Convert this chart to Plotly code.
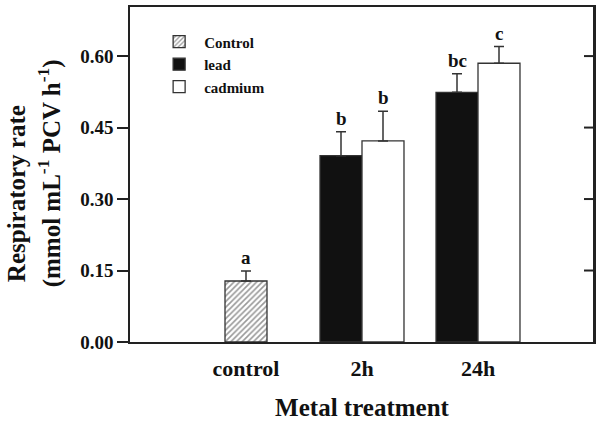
import plotly.graph_objects as go

categories = ["control", "2h", "24h"]
control_vals = [0.128]
control_err = [0.021]
lead_vals = [0.391, 0.524]
lead_err = [0.050, 0.039]
cad_vals = [0.422, 0.585]
cad_err = [0.062, 0.035]
labels_control = ["a"]
labels_lead = ["b", "bc"]
labels_cad = ["b", "c"]
y_ticks = [0.00, 0.15, 0.30, 0.45, 0.60]
y_title_lines = ["<b>Respiratory rate</b>", "<b>(mmol mL<sup>-1</sup> PCV h<sup>-1</sup>)</b>"]
x_title = "<b>Metal treatment</b>"

W, H = 600, 426
ML, MR, MT, MB = 130, 6, 7, 84
PLOT_W = W - ML - MR
BW = 0.362
FONT = "Liberation Serif"
EDGE = "#333333"
INK = "#111111"
AXIS = "#222222"
YMAX = 0.703

fig = go.Figure()
fig.add_trace(go.Bar(
    name="<b>Control</b>", x=categories[:1], y=control_vals, width=BW, offset=-BW / 2,
    marker=dict(color="white", line=dict(color=EDGE, width=1.3),
                pattern=dict(shape="/", fgcolor="#333333", bgcolor="white", size=4, solidity=0.4)),
    error_y=dict(type="data", symmetric=False, array=control_err, arrayminus=[0] * len(control_err),
                 color=EDGE, thickness=1.5, width=5),
))
fig.add_trace(go.Bar(
    name="<b>lead</b>", x=categories[1:], y=lead_vals, width=BW, offset=-BW,
    marker=dict(color=INK, line=dict(color=EDGE, width=1.3)),
    error_y=dict(type="data", symmetric=False, array=lead_err, arrayminus=[0] * len(lead_err),
                 color=EDGE, thickness=1.5, width=5),
))
fig.add_trace(go.Bar(
    name="<b>cadmium</b>", x=categories[1:], y=cad_vals, width=BW, offset=0,
    marker=dict(color="white", line=dict(color=EDGE, width=1.3)),
    error_y=dict(type="data", symmetric=False, array=cad_err, arrayminus=[0] * len(cad_err),
                 color=EDGE, thickness=1.5, width=5),
))

cat_idx = {c: i for i, c in enumerate(categories)}
def add_letters(cats, vals, errs, labs, shift):
    for c, v, e, t in zip(cats, vals, errs, labs):
        fig.add_annotation(x=cat_idx[c] + shift, y=v + e, xref="x", yref="y", text=f"<b>{t}</b>",
                           showarrow=False, yanchor="bottom", yshift=1,
                           font=dict(family=FONT, size=19, color=INK))

add_letters(categories[:1], control_vals, control_err, labels_control, 0)
add_letters(categories[1:], lead_vals, lead_err, labels_lead, -BW / 2)
add_letters(categories[1:], cad_vals, cad_err, labels_cad, BW / 2)

# y-axis title: two rotated lines, both starting near the bottom
for line, xp, yp in zip(y_title_lines, [-0.243, -0.174], [0.172, 0.158]):
    fig.add_annotation(x=xp, y=yp, xref="paper", yref="paper", text=line,
                       showarrow=False, textangle=-90,
                       xanchor="center", yanchor="bottom",
                       font=dict(family=FONT, size=25, color=INK))

# right frame line and inward ticks at the same tick values as the left axis
fig.add_shape(type="line", xref="paper", yref="paper", x0=1, x1=1, y0=0, y1=1,
              line=dict(color=AXIS, width=2))
for v in y_ticks[1:]:
    fig.add_shape(type="line", xref="paper", yref="y", x0=1, x1=1 - 10 / PLOT_W, y0=v, y1=v,
                  line=dict(color=AXIS, width=2))

fig.update_layout(
    width=W, height=H,
    margin=dict(l=ML, r=MR, t=MT, b=MB, autoexpand=False),
    paper_bgcolor="white", plot_bgcolor="white",
    barmode="overlay",
    font=dict(family=FONT, color=INK),
    showlegend=True,
    legend=dict(x=0.052, y=0.945, xanchor="left", yanchor="top",
                bgcolor="rgba(0,0,0,0)", font=dict(family=FONT, size=15, color=INK),
                tracegroupgap=0, itemwidth=40),
    xaxis=dict(type="category", categoryorder="array", categoryarray=categories,
               tickvals=categories, ticktext=[f"<b>{c}</b>" for c in categories],
               range=[-1, 3], showline=True, linecolor=AXIS, linewidth=1.5, mirror=True,
               ticks="outside", ticklen=6, tickcolor="rgba(0,0,0,0)",
               showgrid=False, zeroline=False, automargin=False,
               tickfont=dict(family=FONT, size=22, color=INK),
               title=dict(text=x_title, font=dict(family=FONT, size=25, color=INK), standoff=18)),
    yaxis=dict(range=[0, YMAX], tickvals=y_ticks, ticktext=[f"<b>{v:.2f}</b>" for v in y_ticks],
               showline=True, linecolor=AXIS, linewidth=1.5, mirror=True,
               ticks="outside", ticklen=11, tickwidth=1.5, tickcolor=AXIS,
               showgrid=False, zeroline=False, automargin=False,
               tickfont=dict(family=FONT, size=19, color=INK)),
)

fig.write_html("out.html", config={"displayModeBar": False},
               post_script="document.documentElement.style.overflow='hidden';document.body.style.margin='0';document.body.style.overflow='hidden';")
